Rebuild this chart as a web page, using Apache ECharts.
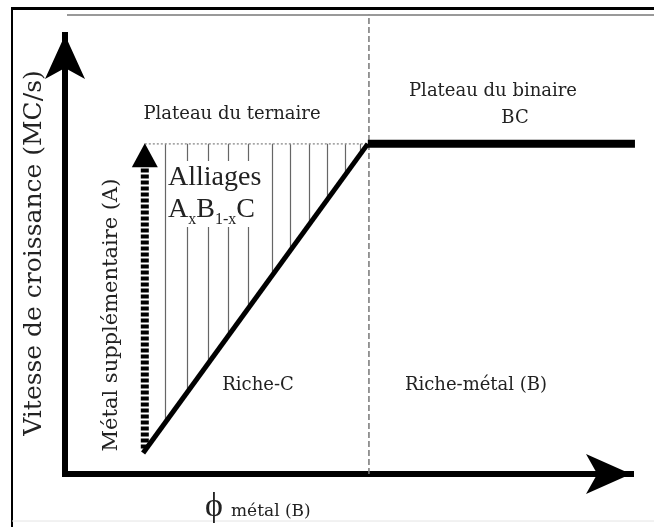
<!DOCTYPE html>
<html>
<head>
<meta charset="utf-8">
<script src="https://cdn.jsdelivr.net/npm/echarts@6/dist/echarts.min.js"></script>
<style>
  html, body { margin: 0; padding: 0; background: #fff; }
  #chart { width: 654px; height: 527px; }
</style>
</head>
<body>
<div id="chart"></div>
<script>
// values (axis units 0..100)
var rampX = [13.8, 53.5];
var rampY = [4.8, 75.2];
var plateauX = [53.5, 100.7];
var plateauY = [75.2, 75.2];
var boundaryX = [53.7, 53.7];
var boundaryY = [0, 104.6];
var hatchX = [17.8, 21.6, 25.3, 28.8, 32.3, 36.6, 39.8, 43.1, 46.3, 49.6, 52.1];
var hatchBottom = [12.3, 18.9, 25.7, 31.7, 38.3, 45.3, 51.3, 57.2, 62.6, 68.3, 72.9];
var hatchTop = 75.2;
var ceilingX = [14.1, 53.5];
var supplyX = [14.1, 14.1];
var supplyY = [5.8, 72.6];

var yTitle = 'Vitesse de croissance (MC/s)';
var supplyLabel = 'Métal supplémentaire (A)';
var zoneLabels = ['Plateau du ternaire', 'Plateau du binaire', 'BC', 'Riche-C', 'Riche-métal (B)'];

var serif = 'DejaVu Serif';
var ink = '#222';

function pairs(xs, ys) {
  return xs.map(function (x, i) { return [x, ys[i]]; });
}

var hatchData = hatchX.map(function (x, i) {
  return { coords: [[x, hatchTop], [x, hatchBottom[i]]] };
});

var chart = echarts.init(document.getElementById('chart'));

var option = {
  backgroundColor: '#fff',
  animation: false,
  grid: { left: 65, top: 35, right: 23, bottom: 53 },
  xAxis: {
    type: 'value', min: 0, max: 100,
    axisLine: {
      show: true, symbol: ['none', 'arrow'], symbolSize: [30, 45],
      lineStyle: { color: '#000', width: 6, cap: 'square' }
    },
    axisTick: { show: false }, axisLabel: { show: false }, splitLine: { show: false }
  },
  yAxis: {
    type: 'value', min: 0, max: 100,
    axisLine: {
      show: true, symbol: ['none', 'arrow'], symbolSize: [30, 44],
      lineStyle: { color: '#000', width: 6, cap: 'square' }
    },
    axisTick: { show: false }, axisLabel: { show: false }, splitLine: { show: false }
  },
  series: [
    {
      type: 'lines', coordinateSystem: 'cartesian2d', z: 1,
      lineStyle: { color: '#666', width: 1.2, opacity: 1 },
      data: hatchData
    },
    {
      type: 'line', data: pairs(ceilingX, [hatchTop, hatchTop]), symbol: 'none', clip: false, z: 2,
      lineStyle: { color: '#999', width: 1.5, type: [2, 2] }
    },
    {
      type: 'line', data: pairs(boundaryX, boundaryY), symbol: 'none', clip: false, z: 2,
      lineStyle: { color: '#777', width: 1.5, type: [6, 3] }
    },
    {
      type: 'line', data: pairs(rampX, rampY), symbol: 'none', clip: false, z: 3,
      lineStyle: { color: '#000', width: 5 }
    },
    {
      type: 'line', data: pairs(plateauX, plateauY), symbol: 'none', clip: false, z: 3,
      lineStyle: { color: '#000', width: 8, cap: 'butt' }
    },
    {
      type: 'line', clip: false, z: 4,
      data: [
        { value: [supplyX[0], supplyY[0]], symbol: 'none' },
        { value: [supplyX[1], supplyY[1]], symbol: 'triangle', symbolSize: [26, 24] }
      ],
      showSymbol: true,
      itemStyle: { color: '#000' },
      lineStyle: { color: '#000', width: 8, type: [4, 2] }
    }
  ],
  graphic: [
    // outer frame
    { type: 'line', shape: { x1: 12, y1: 8, x2: 12, y2: 527 }, style: { stroke: '#000', lineWidth: 2 } },
    { type: 'line', shape: { x1: 11, y1: 8.5, x2: 654, y2: 8.5 }, style: { stroke: '#000', lineWidth: 3 } },
    { type: 'line', shape: { x1: 67, y1: 15, x2: 654, y2: 15 }, style: { stroke: '#777', lineWidth: 1.5 } },
    { type: 'line', shape: { x1: 12, y1: 521, x2: 654, y2: 521 }, style: { stroke: '#e4e4e4', lineWidth: 1 } },

    {
      type: 'text', x: 34, y: 253, rotation: Math.PI / 2, z: 10,
      style: { text: yTitle, fill: ink, font: '25px "' + serif + '"', align: 'center', verticalAlign: 'middle' }
    },
    {
      type: 'text', x: 112, y: 315, rotation: Math.PI / 2, z: 10,
      style: { text: supplyLabel, fill: ink, font: '21px "' + serif + '"', align: 'center', verticalAlign: 'middle' }
    },
    {
      type: 'text', x: 232, y: 114, z: 10,
      style: { text: zoneLabels[0], fill: ink, font: '18px "' + serif + '"', align: 'center', verticalAlign: 'middle' }
    },
    {
      type: 'text', x: 493, y: 91, z: 10,
      style: { text: zoneLabels[1], fill: ink, font: '18px "' + serif + '"', align: 'center', verticalAlign: 'middle' }
    },
    {
      type: 'text', x: 515, y: 118, z: 10,
      style: { text: zoneLabels[2], fill: ink, font: '18px "' + serif + '"', align: 'center', verticalAlign: 'middle' }
    },
    {
      type: 'text', x: 258, y: 385, z: 10,
      style: { text: zoneLabels[3], fill: ink, font: '18px "' + serif + '"', align: 'center', verticalAlign: 'middle' }
    },
    {
      type: 'text', x: 476, y: 385, z: 10,
      style: { text: zoneLabels[4], fill: ink, font: '18px "' + serif + '"', align: 'center', verticalAlign: 'middle' }
    },
    // white box behind the alloy label
    { type: 'rect', shape: { x: 169, y: 161, width: 100, height: 66 }, style: { fill: '#fff' }, z: 9 },
    {
      type: 'text', x: 168, y: 178, z: 10,
      style: { text: 'Alliages', fill: ink, font: '28px "Liberation Serif"', align: 'left', verticalAlign: 'middle' }
    },
    {
      type: 'text', x: 168, y: 210, z: 10,
      style: {
        text: '{m|A}{s|x}{m|B}{s|1-x}{m|C}', align: 'left', verticalAlign: 'middle',
        rich: {
          m: { fill: ink, font: '28px "Liberation Serif"', verticalAlign: 'bottom' },
          s: { fill: ink, font: '16px "Liberation Serif"', verticalAlign: 'bottom', padding: [0, 0, -4, 0] }
        }
      }
    },
    {
      type: 'text', x: 214, y: 507, z: 10,
      style: { text: 'ϕ', fill: ink, font: '34px "Liberation Serif"', align: 'center', verticalAlign: 'middle' }
    },
    {
      type: 'text', x: 231, y: 512, z: 10,
      style: { text: 'métal (B)', fill: ink, font: '17px "' + serif + '"', align: 'left', verticalAlign: 'middle' }
    }
  ]
};

chart.setOption(option);
</script>
</body>
</html>
